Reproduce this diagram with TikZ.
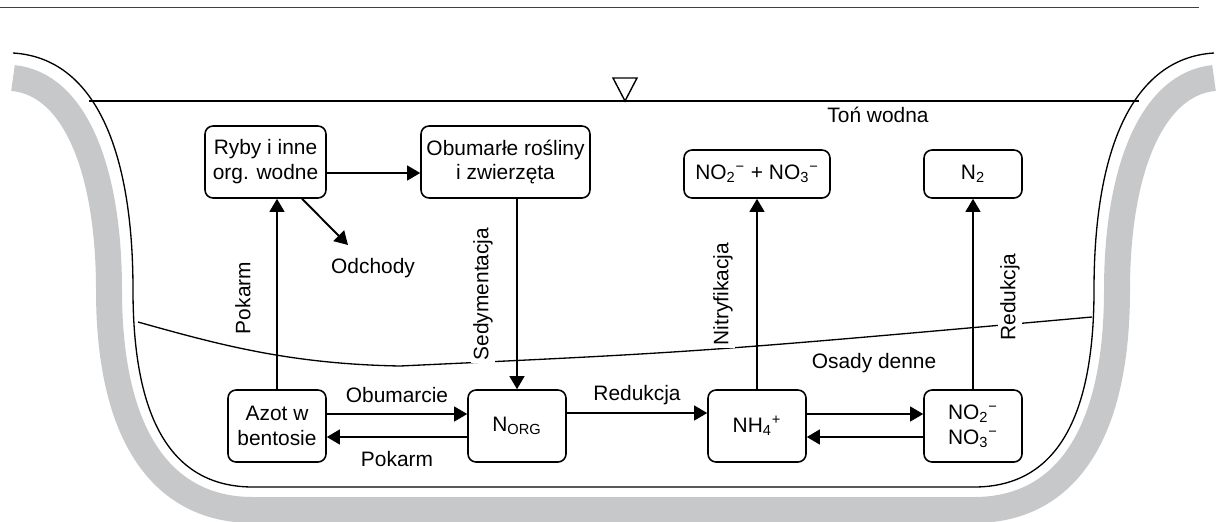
\documentclass[tikz,border=0pt]{standalone}
\usepackage{fontspec}
\setmainfont{Liberation Sans}
\usetikzlibrary{positioning, calc, arrows.meta}
\definecolor{dno}{RGB}{199,200,202}
\tikzset{
  pole/.style={draw, line width=0.9pt, rounded corners=1.6mm, align=center,
    inner sep=0pt, minimum width=1.96cm, minimum height=1.44cm},
  strz/.style={line width=1.1pt, -{Triangle[length=7.5pt,width=8.5pt]}},
  opis/.style={inner sep=1pt},
  pion/.style={rotate=90, fill=white, inner sep=1.5pt},
}

\begin{document}
\begin{tikzpicture}[x=0.02cm, y=-0.02cm, font=\fontsize{11.9}{14.2}\selectfont]
                \useasboundingbox (0,0) rectangle (1217,521);
                % rama zbiornika
                \draw[black!75, line width=0.4pt] (0,7) -- (1199,7);
                \draw[dno, line width=0.52cm] (13,78) .. controls (75,84) and (109,170) .. (109,290)
                    .. controls (109,440) and (165,510) .. (253,510) -- (974,510)
                    .. controls (1062,510) and (1117,440) .. (1117,290)
                    .. controls (1117,170) and (1152,84) .. (1214,78);
                \draw[line width=0.75pt] (13,53) .. controls (95,58) and (133,150) .. (133,290)
                    .. controls (133,425) and (175,487) .. (253,487) -- (974,487)
                    .. controls (1052,487) and (1094,425) .. (1094,290)
                    .. controls (1094,150) and (1132,58) .. (1214,53);
                % lustro wody
                \draw[line width=0.75pt] (89,101) -- (1139,101);
                \draw[line width=0.8pt] (613,78) -- (637,78) -- (625,101) -- cycle;
                % granica osadow
                \draw[line width=0.75pt] (138,322) .. controls (220,345) and (290,364) .. (400,366)
                    .. controls (700,352) .. (1092,317);
                \node[opis] (ton) at (878,115) {Toń wodna};
                \node[opis] (osady) at (874,363) {Osady denne};
                % pola
                \node[pole, minimum width=2.42cm] (ryby) at (265.5,162) {Ryby i inne\\org. wodne};
                \node[pole, minimum width=3.38cm] (obum) at (505.5,162) {Obumarłe rośliny\\i zwierzęta};
                \node[pole, minimum width=2.92cm, minimum height=0.96cm] (nowoda) at (757,174)
                    {NO\textsubscript{2}\textsuperscript{−} + NO\textsubscript{3}\textsuperscript{−}};
                \node[pole, minimum height=0.96cm] (azotgaz) at (973,174) {N\textsubscript{2}};
                \node[pole] (azot) at (277,426) {Azot w\\bentosie};
                \node[pole] (norg) at (517,426) {N\textsubscript{ORG}};
                \node[pole] (amon) at (757,426) {NH\textsubscript{4}\textsuperscript{+}};
                \node[pole] (noosad) at (973,426)
                    {NO\textsubscript{2}\textsuperscript{−}\\NO\textsubscript{3}\textsuperscript{−}};
                \node[opis] (odchody) at (373,268) {Odchody};
                \coordinate (odchkon) at (348,245);
                % opisy
                \node[pion] (lpok) at (243,298) {Pokarm};
                \node[pion] (lsed) at (483,294) {Sedymentacja};
                \node[pion] (lnit) at (723,294) {Nitryfikacja};
                \node[pion] (lred) at (1010,297) {Redukcja};
                \node[opis] (lobum) at (397,395) {Obumarcie};
                \node[opis] (lpok2) at (397,459) {Pokarm};
                \node[opis] (lred2) at (637,395) {Redukcja};
                % strzalki
                \draw[strz] ([yshift=-0.22cm]ryby.east) -- ([yshift=-0.22cm]obum.west);
                \draw[strz] ([xshift=0.73cm]ryby.south) -- (odchkon);
                \draw[strz] (azot.north) -- (azot.north |- ryby.south);
                \draw[strz] (obum.south -| norg.north) -- (norg.north);
                \draw[strz] ([yshift=0.24cm]azot.east) -- ([yshift=0.24cm]norg.west);
                \draw[strz] ([yshift=-0.22cm]norg.west) -- ([yshift=-0.22cm]azot.east);
                \draw[strz] ([yshift=0.26cm]norg.east) -- ([yshift=0.26cm]amon.west);
                \draw[strz] ([yshift=0.24cm]amon.east) -- ([yshift=0.24cm]noosad.west);
                \draw[strz] ([yshift=-0.22cm]noosad.west) -- ([yshift=-0.22cm]amon.east);
                \draw[strz] (amon.north) -- (amon.north |- nowoda.south);
                \draw[strz] (noosad.north) -- (noosad.north |- azotgaz.south);
\end{tikzpicture}
\end{document}
